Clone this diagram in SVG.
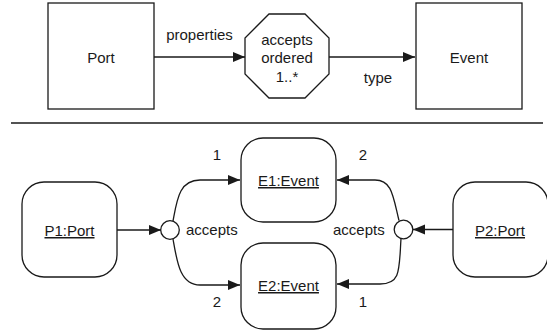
<svg xmlns="http://www.w3.org/2000/svg" width="547" height="331" viewBox="0 0 547 331">
<defs>
<style>
.s{fill:#fff;stroke:#1a1a1a;stroke-width:1.3}
.c{fill:none;stroke:#1a1a1a;stroke-width:1.3}
text{font-family:"Liberation Sans",Arial,sans-serif;font-size:15px;fill:#1a1a1a}
.m{text-anchor:middle}
.u{text-decoration:underline}
</style>
<marker id="ah" markerUnits="userSpaceOnUse" markerWidth="14" markerHeight="12" viewBox="0 0 14 12" refX="13" refY="6" orient="auto">
<path d="M1 1 L13 6 L1 11 Z" fill="#1a1a1a"/>
</marker>
</defs>
<rect width="547" height="331" fill="#fff"/>
<g id="port">
<rect class="s" x="48" y="3" width="106" height="106"/>
<text class="m" x="101" y="63">Port</text>
</g>
<g id="accepts-ordered">
<polygon class="s" points="269,14 305,14 329,38 329,74 305,98 269,98 245,74 245,38"/>
<text class="m" x="287" y="45">accepts</text>
<text class="m" x="287" y="63">ordered</text>
<text class="m" x="287" y="82">1..*</text>
</g>
<g id="event">
<rect class="s" x="416" y="3" width="106" height="106"/>
<text class="m" x="469" y="63">Event</text>
</g>
<line x1="11" y1="123" x2="543" y2="123" stroke="#1a1a1a" stroke-width="1.3"/>
<g id="p1">
<rect class="s" x="22" y="182" width="95" height="95" rx="22" ry="22"/>
<text class="m u" x="69.5" y="236">P1:Port</text>
</g>
<g id="e1">
<rect class="s" x="241" y="138" width="95" height="84" rx="22" ry="22"/>
<text class="m u" x="288.5" y="186">E1:Event</text>
</g>
<g id="e2">
<rect class="s" x="241" y="243" width="95" height="86" rx="22" ry="22"/>
<text class="m u" x="288.5" y="291">E2:Event</text>
</g>
<g id="p2">
<rect class="s" x="453" y="182" width="95" height="95" rx="22" ry="22"/>
<text class="m u" x="500" y="236">P2:Port</text>
</g>
<g id="link1">
<circle class="s" cx="170" cy="230" r="9.3"/>
</g>
<g id="link2">
<circle class="s" cx="403.5" cy="229.5" r="9.3"/>
</g>
<g id="connectors">
<path class="c" d="M154 57 L245 57" marker-end="url(#ah)"/>
<path class="c" d="M329 57 L415 57" marker-end="url(#ah)"/>
<path class="c" d="M117 230 L161 230" marker-end="url(#ah)"/>
<path class="c" d="M173 221 C177 200,179 180,200 180 L240 180" marker-end="url(#ah)"/>
<path class="c" d="M173 239 C177 262,180 285,200 285 L240 285" marker-end="url(#ah)"/>
<path class="c" d="M453 229.5 L413 229.5" marker-end="url(#ah)"/>
<path class="c" d="M399 220.5 C393 196,392 180,375 180 L337 180" marker-end="url(#ah)"/>
<path class="c" d="M401 238.5 C399 270,401 284,380 284 L337 284" marker-end="url(#ah)"/>
</g>
<g id="labels">
<text class="m" x="199.5" y="40">properties</text>
<text class="m" x="378" y="83">type</text>
<text x="186" y="235">accepts</text>
<text x="333" y="235">accepts</text>
<text class="m" x="217" y="160">1</text>
<text class="m" x="217" y="307">2</text>
<text class="m" x="363" y="160">2</text>
<text class="m" x="363" y="307">1</text>
</g>
</svg>
